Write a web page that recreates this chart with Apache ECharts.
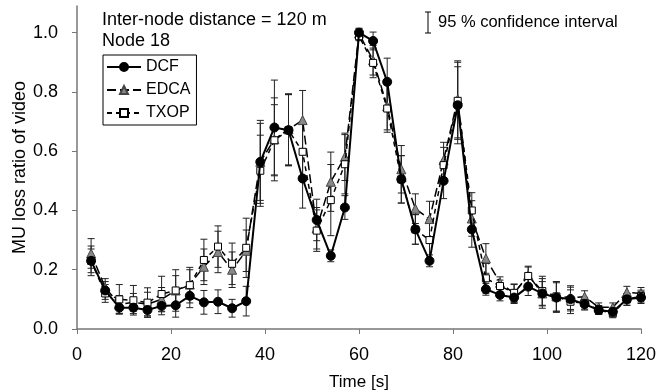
<!DOCTYPE html>
<html>
<head>
<meta charset="utf-8">
<script src="https://cdn.jsdelivr.net/npm/echarts@6/dist/echarts.min.js"></script>
<style>
html, body { margin: 0; padding: 0; background: #fff; }
#chart { width: 659px; height: 392px; }
</style>
</head>
<body>
<div id="chart"></div>
<script>
// time axis (s)
const times = [3, 6, 9, 12, 15, 18, 21, 24, 27, 30, 33, 36, 39, 42, 45, 48, 51, 54, 57, 60,
  63, 66, 69, 72, 75, 78, 81, 84, 87, 90, 93, 96, 99, 102, 105, 108, 111, 114, 117, 120]

// MU loss ratio
const dcf = [0.23, 0.13, 0.072, 0.072, 0.064, 0.078, 0.08, 0.112, 0.09, 0.092, 0.07, 0.094, 0.564, 0.68, 0.671, 0.508, 0.368, 0.247, 0.41, 1.0,
  0.972, 0.834, 0.505, 0.336, 0.23, 0.50, 0.755, 0.336, 0.134, 0.115, 0.106, 0.143, 0.12, 0.106, 0.101, 0.084, 0.064, 0.058, 0.10, 0.106]
const edca = [0.255, 0.14, 0.083, 0.09, 0.084, 0.10, 0.13, 0.15, 0.21, 0.26, 0.20, 0.264, 0.564, 0.64, 0.674, 0.705, 0.34, 0.497, 0.581, 0.997,
  0.907, 0.752, 0.539, 0.406, 0.371, 0.57, 0.775, 0.373, 0.238, 0.156, 0.12, 0.182, 0.12, 0.11, 0.106, 0.109, 0.073, 0.073, 0.124, 0.12]
const txop = [0.23, 0.12, 0.10, 0.097, 0.089, 0.118, 0.13, 0.148, 0.233, 0.278, 0.22, 0.274, 0.534, 0.637, 0.671, 0.598, 0.332, 0.435, 0.556, 0.988,
  0.898, 0.744, 0.505, 0.336, 0.30, 0.553, 0.77, 0.40, 0.171, 0.145, 0.122, 0.179, 0.128, 0.11, 0.092, 0.087, 0.064, 0.053, 0.10, 0.111]

// half width of the 95 % confidence interval
const dcfErr = [0.04, 0.03, 0.02, 0.02, 0.02, 0.03, 0.04, 0.04, 0.04, 0.04, 0.03, 0.05, 0.14, 0.16, 0.12, 0.1, 0.07, 0.02, 0.04, 0.015,
  0.03, 0.08, 0.08, 0.05, 0.02, 0.06, 0.13, 0.06, 0.02, 0.02, 0.02, 0.03, 0.04, 0.05, 0.04, 0.02, 0.015, 0.015, 0.02, 0.02]
const edcaErr = [0.05, 0.03, 0.03, 0.03, 0.04, 0.04, 0.05, 0.05, 0.06, 0.07, 0.06, 0.07, 0.13, 0.14, 0.12, 0.1, 0.07, 0.1, 0.08, 0.015,
  0.05, 0.08, 0.08, 0.05, 0.06, 0.06, 0.13, 0.06, 0.05, 0.02, 0.03, 0.03, 0.05, 0.05, 0.04, 0.02, 0.015, 0.015, 0.02, 0.02]
const txopErr = [0.05, 0.03, 0.05, 0.05, 0.05, 0.06, 0.07, 0.06, 0.07, 0.07, 0.07, 0.1, 0.12, 0.12, 0.12, 0.1, 0.07, 0.12, 0.1, 0.015,
  0.05, 0.08, 0.08, 0.05, 0.07, 0.06, 0.13, 0.06, 0.05, 0.02, 0.03, 0.03, 0.05, 0.05, 0.04, 0.02, 0.015, 0.015, 0.02, 0.02]

const font = 'Liberation Sans, Arial, sans-serif'

function pairs (vals) {
  return times.map((t, i) => [t, vals[i]])
}

function errData (vals, errs) {
  return times.map((t, i) => [t, vals[i] - errs[i], vals[i] + errs[i]])
}

// 误差线
function renderErr (params, api) {
  const lo = api.coord([api.value(0), api.value(1)])
  const hi = api.coord([api.value(0), api.value(2)])
  const w = 3.5
  const style = { stroke: '#222', lineWidth: 1 }
  return {
    type: 'group',
    children: [
      { type: 'line', shape: { x1: lo[0], y1: lo[1], x2: hi[0], y2: hi[1] }, style: style },
      { type: 'line', shape: { x1: lo[0] - w, y1: lo[1], x2: lo[0] + w, y2: lo[1] }, style: style },
      { type: 'line', shape: { x1: hi[0] - w, y1: hi[1], x2: hi[0] + w, y2: hi[1] }, style: style }
    ]
  }
}

function errSeries (name, vals, errs) {
  return {
    name: name,
    type: 'custom',
    renderItem: renderErr,
    data: errData(vals, errs),
    encode: { x: 0, y: [1, 2] },
    silent: true,
    z: 1
  }
}

const chart = echarts.init(document.getElementById('chart'))
chart.setOption({
  animation: false,
  textStyle: { fontFamily: font },
  grid: { left: 77, right: 18, top: 6, bottom: 63, outerBoundsMode: 'none', containLabel: false },
  legend: {
    data: ['DCF', 'EDCA', 'TXOP'],
    orient: 'vertical',
    left: 103,
    top: 55,
    borderColor: '#000',
    borderWidth: 1,
    borderRadius: 0,
    padding: [4, 6, 4, 3],
    itemGap: 7,
    itemWidth: 34,
    itemHeight: 10,
    textStyle: { fontSize: 16, color: '#000', fontFamily: font }
  },
  xAxis: {
    type: 'value',
    min: 0,
    max: 120,
    interval: 20,
    name: 'Time [s]',
    nameLocation: 'middle',
    nameGap: 45,
    nameMoveOverlap: false,
    nameTextStyle: { fontSize: 17, color: '#000' },
    axisLine: { lineStyle: { color: '#777', width: 1.5 } },
    axisTick: { length: 5, lineStyle: { color: '#777' } },
    axisLabel: { fontSize: 18, color: '#000', margin: 17 },
    splitLine: { show: false }
  },
  yAxis: {
    type: 'value',
    min: 0,
    max: 1.09,
    interval: 0.2,
    name: 'MU loss ratio of video',
    nameLocation: 'middle',
    nameGap: 48,
    nameMoveOverlap: false,
    nameTextStyle: { fontSize: 18, color: '#000' },
    axisLine: { show: true, lineStyle: { color: '#777', width: 1.5 } },
    axisTick: { show: true, length: 5, lineStyle: { color: '#777' } },
    axisLabel: {
      fontSize: 18,
      color: '#000',
      margin: 19,
      showMaxLabel: false,
      formatter: v => v.toFixed(1)
    },
    splitLine: { show: false }
  },
  graphic: [
    { type: 'text', left: 102, top: 11, style: { text: 'Inter-node distance = 120 m', fontSize: 18, fill: '#000', fontFamily: font } },
    { type: 'text', left: 102, top: 32, style: { text: 'Node 18', fontSize: 18, fill: '#000', fontFamily: font } },
    { type: 'line', shape: { x1: 428, y1: 12, x2: 428, y2: 33 }, style: { stroke: '#000', lineWidth: 1 } },
    { type: 'line', shape: { x1: 425, y1: 12, x2: 431, y2: 12 }, style: { stroke: '#000', lineWidth: 1 } },
    { type: 'line', shape: { x1: 425, y1: 33, x2: 431, y2: 33 }, style: { stroke: '#000', lineWidth: 1 } },
    { type: 'text', left: 438, top: 14, style: { text: '95 % confidence interval', fontSize: 16.5, fill: '#000', fontFamily: font } }
  ],
  series: [
    errSeries('errEDCA', edca, edcaErr),
    errSeries('errTXOP', txop, txopErr),
    errSeries('errDCF', dcf, dcfErr),
    {
      name: 'EDCA',
      type: 'line',
      data: pairs(edca),
      symbol: 'triangle',
      symbolSize: 9,
      lineStyle: { color: '#000', width: 1.5, type: [9, 4] },
      itemStyle: { color: '#888', borderColor: '#444', borderWidth: 1 },
      z: 3
    },
    {
      name: 'TXOP',
      type: 'line',
      data: pairs(txop),
      symbol: 'rect',
      symbolSize: 7,
      lineStyle: { color: '#000', width: 1.5, type: [5, 4] },
      itemStyle: { color: '#fff', borderColor: '#000', borderWidth: 1 },
      z: 4
    },
    {
      name: 'DCF',
      type: 'line',
      data: pairs(dcf),
      symbol: 'circle',
      symbolSize: 9,
      lineStyle: { color: '#000', width: 2 },
      itemStyle: { color: '#000', borderColor: '#000', borderWidth: 1 },
      z: 5
    }
  ]
})
</script>
</body>
</html>
